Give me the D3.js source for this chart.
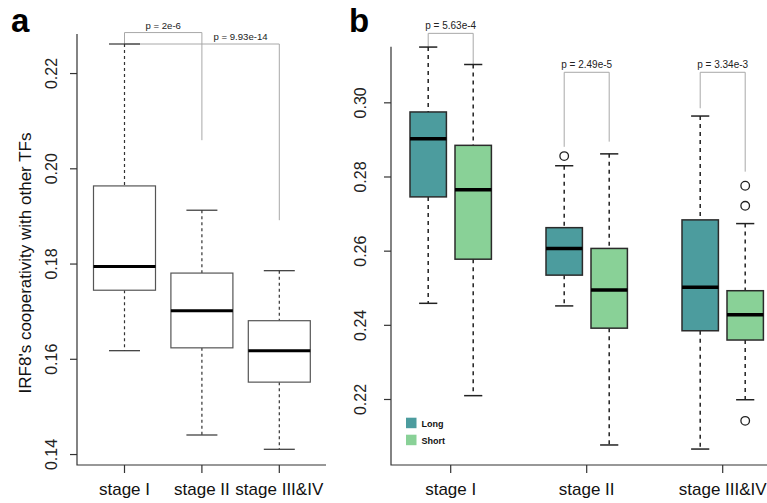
<!DOCTYPE html>
<html>
<head>
<meta charset="utf-8">
<script src="https://cdn.jsdelivr.net/npm/d3@7"></script>
<style>
  body { margin: 0; background: #fff; }
  svg { font-family: "Liberation Sans", Arial, Helvetica, sans-serif; }
</style>
</head>
<body>
<svg width="767" height="503"></svg>
<script>
// ---- data ----
var stages = ["stage I", "stage II", "stage III&IV"];

// panel a: [lower whisker, Q1, median, Q3, upper whisker]
var irf8Stats = [
  [0.1617, 0.1744, 0.1794, 0.1963, 0.2261],
  [0.1440, 0.1623, 0.1701, 0.1780, 0.1912],
  [0.1410, 0.1551, 0.1617, 0.1680, 0.1785]
];
var ticksA = [0.14, 0.16, 0.18, 0.20, 0.22];
var pLabelsA = ["p = 2e-6", "p = 9.93e-14"];
var pPairsA = [[0, 1], [0, 2]];
var pLevelsA = [[0.2285, 0.2261, 0.2059], [0.2261, 0.2261, 0.1891]]; // bar, left end, right end
var pLabelAtA = [0.5, 1.5];   // label centre, in stage index units

// panel b
var series = ["Long", "Short"];
var seriesColors = ["#4c9c9e", "#89d197"];
var longStats = [
  [0.2458, 0.2745, 0.2902, 0.2974, 0.3149],
  [0.2451, 0.2534, 0.2606, 0.2662, 0.2829],
  [0.2065, 0.2384, 0.2501, 0.2683, 0.2963]
];
var shortStats = [
  [0.2209, 0.2577, 0.2764, 0.2884, 0.3102],
  [0.2076, 0.2391, 0.2494, 0.2606, 0.2861],
  [0.2198, 0.2359, 0.2427, 0.2492, 0.2673]
];
var longOutliers = [[], [0.2855], []];
var shortOutliers = [[], [], [0.2775, 0.2721, 0.2141]];
var ticksB = [0.22, 0.24, 0.26, 0.28, 0.30];
var pLabelsB = ["p = 5.63e-4", "p = 2.49e-5", "p = 3.34e-3"];
var pLevelsB = [[0.3186, 0.3149, 0.3103], [0.3081, 0.2880, 0.2894], [0.3081, 0.2984, 0.2813]];

var svg = d3.select("svg");

// draws one R-style box: dashed whiskers, caps, box, thick median
function drawBox(g, cx, halfW, st, y, opt) {
  var capW = halfW / 2;
  g.append("line").attr("x1", cx).attr("x2", cx).attr("y1", y(st[4])).attr("y2", y(st[3]))
    .attr("stroke", opt.whisker).attr("stroke-width", opt.lw).attr("stroke-dasharray", opt.dash);
  g.append("line").attr("x1", cx).attr("x2", cx).attr("y1", y(st[1])).attr("y2", y(st[0]))
    .attr("stroke", opt.whisker).attr("stroke-width", opt.lw).attr("stroke-dasharray", opt.dash);
  [st[0], st[4]].forEach(function(v) {
    g.append("line").attr("x1", cx - capW).attr("x2", cx + capW).attr("y1", y(v)).attr("y2", y(v))
      .attr("stroke", opt.whisker).attr("stroke-width", opt.lw);
  });
  g.append("rect").attr("x", cx - halfW).attr("width", halfW * 2)
    .attr("y", y(st[3])).attr("height", y(st[1]) - y(st[3]))
    .attr("fill", opt.fill).attr("stroke", opt.border).attr("stroke-width", opt.lw);
  g.append("line").attr("x1", cx - halfW).attr("x2", cx + halfW).attr("y1", y(st[2])).attr("y2", y(st[2]))
    .attr("stroke", "#000").attr("stroke-width", opt.medLw);
}

function bracket(g, x1, x2, lv, y) {
  var p = d3.path();
  p.moveTo(x1, y(lv[1])); p.lineTo(x1, y(lv[0])); p.lineTo(x2, y(lv[0])); p.lineTo(x2, y(lv[2]));
  g.append("path").attr("d", p.toString()).attr("fill", "none")
    .attr("stroke", "#a8a8a8").attr("stroke-width", 1);
}

function yAxis(g, y, ticks, x0, labelOff) {
  var ax = g.append("g").attr("transform", "translate(" + x0 + ",0)")
    .call(d3.axisLeft(y).tickValues(ticks).tickSize(7).tickFormat(d3.format(".2f")));
  ax.select(".domain").remove();
  ax.selectAll(".tick line").attr("stroke", "#333").attr("stroke-width", 1.2);
  ax.selectAll(".tick text").attr("x", null).attr("dy", null)
    .attr("transform", "translate(" + labelOff + ",0) rotate(-90)")
    .attr("text-anchor", "middle").attr("fill", "#222").style("font-size", "16px");
}

function frame(g, left, right, top, bottom) {
  g.append("path").attr("d", "M" + left + "," + top + "V" + bottom + "H" + right)
    .attr("fill", "none").attr("stroke", "#333").attr("stroke-width", 1.2);
}

function xLabels(g, x, baseY) {
  stages.forEach(function(s, i) {
    g.append("line").attr("x1", x(i + 1)).attr("x2", x(i + 1)).attr("y1", baseY).attr("y2", baseY + 8)
      .attr("stroke", "#333").attr("stroke-width", 1.2);
    g.append("text").attr("x", x(i + 1)).attr("y", baseY + 30).attr("text-anchor", "middle")
      .attr("fill", "#111").style("font-size", "17px").text(s);
  });
}

// ---------------- panel a ----------------
var gA = svg.append("g");
var xA = d3.scaleLinear().domain([1, 3]).range([124.5, 279.3]);
var yA = d3.scaleLinear().domain([0.1377, 0.2282]).range([465, 34]);

frame(gA, 77, 326, 34, 465);
yAxis(gA, yA, ticksA, 77, -20);
xLabels(gA, xA, 465);

gA.append("text").attr("transform", "translate(31,263) rotate(-90)")
  .attr("text-anchor", "middle").attr("fill", "#111").style("font-size", "17px")
  .text("IRF8's cooperativity with other TFs");

pPairsA.forEach(function(pr, i) {
  bracket(gA, xA(pr[0] + 1), xA(pr[1] + 1), pLevelsA[i], yA);
  gA.append("text").attr("x", xA(pLabelAtA[i] + 1)).attr("y", yA(pLevelsA[i][0]) - 4)
    .attr("text-anchor", "middle").attr("fill", "#222").style("font-size", "9.6px").text(pLabelsA[i]);
});

irf8Stats.forEach(function(st, i) {
  drawBox(gA, xA(i + 1), 31, st, yA,
    { fill: "#fff", border: "#555", whisker: "#333", lw: 1.2, medLw: 3, dash: "3,3" });
});

gA.append("text").attr("x", 11).attr("y", 32).style("font-size", "33px")
  .style("font-weight", "bold").attr("fill", "#000").text("a");

// ---------------- panel b ----------------
var gB = svg.append("g");
var xB = d3.scaleLinear().domain([1, 3]).range([450.7, 722.7]);
var yB = d3.scaleLinear().domain([0.2022, 0.315]).range([465, 46.7]);
var offB = 22.5, halfB = 18.2;

frame(gB, 391, 770, 46.7, 465);
yAxis(gB, yB, ticksB, 391, -25);
xLabels(gB, xB, 465);

pLabelsB.forEach(function(lab, i) {
  bracket(gB, xB(i + 1) - offB, xB(i + 1) + offB, pLevelsB[i], yB);
  gB.append("text").attr("x", xB(i + 1)).attr("y", yB(pLevelsB[i][0]) - 4)
    .attr("text-anchor", "middle").attr("fill", "#222").style("font-size", "10px").text(lab);
});

[longStats, shortStats].forEach(function(statsSet, k) {
  var outs = k === 0 ? longOutliers : shortOutliers;
  statsSet.forEach(function(st, i) {
    var cx = xB(i + 1) + (k === 0 ? -offB : offB);
    drawBox(gB, cx, halfB, st, yB,
      { fill: seriesColors[k], border: "#2b2b2b", whisker: "#222", lw: 1.5, medLw: 3.5, dash: "4,4" });
    outs[i].forEach(function(v) {
      gB.append("circle").attr("cx", cx).attr("cy", yB(v)).attr("r", 4.3)
        .attr("fill", "none").attr("stroke", "#222").attr("stroke-width", 1.3);
    });
  });
});

// legend
series.forEach(function(s, k) {
  var ly = 417.7 + k * 17;
  gB.append("rect").attr("x", 406).attr("y", ly).attr("width", 10.5).attr("height", 10.5)
    .attr("fill", seriesColors[k]);
  gB.append("text").attr("x", 421.5).attr("y", ly + 9).style("font-size", "9px")
    .style("font-weight", "bold").attr("fill", "#111").text(s);
});

gB.append("text").attr("x", 349).attr("y", 32).style("font-size", "33px")
  .style("font-weight", "bold").attr("fill", "#000").text("b");
</script>
</body>
</html>
